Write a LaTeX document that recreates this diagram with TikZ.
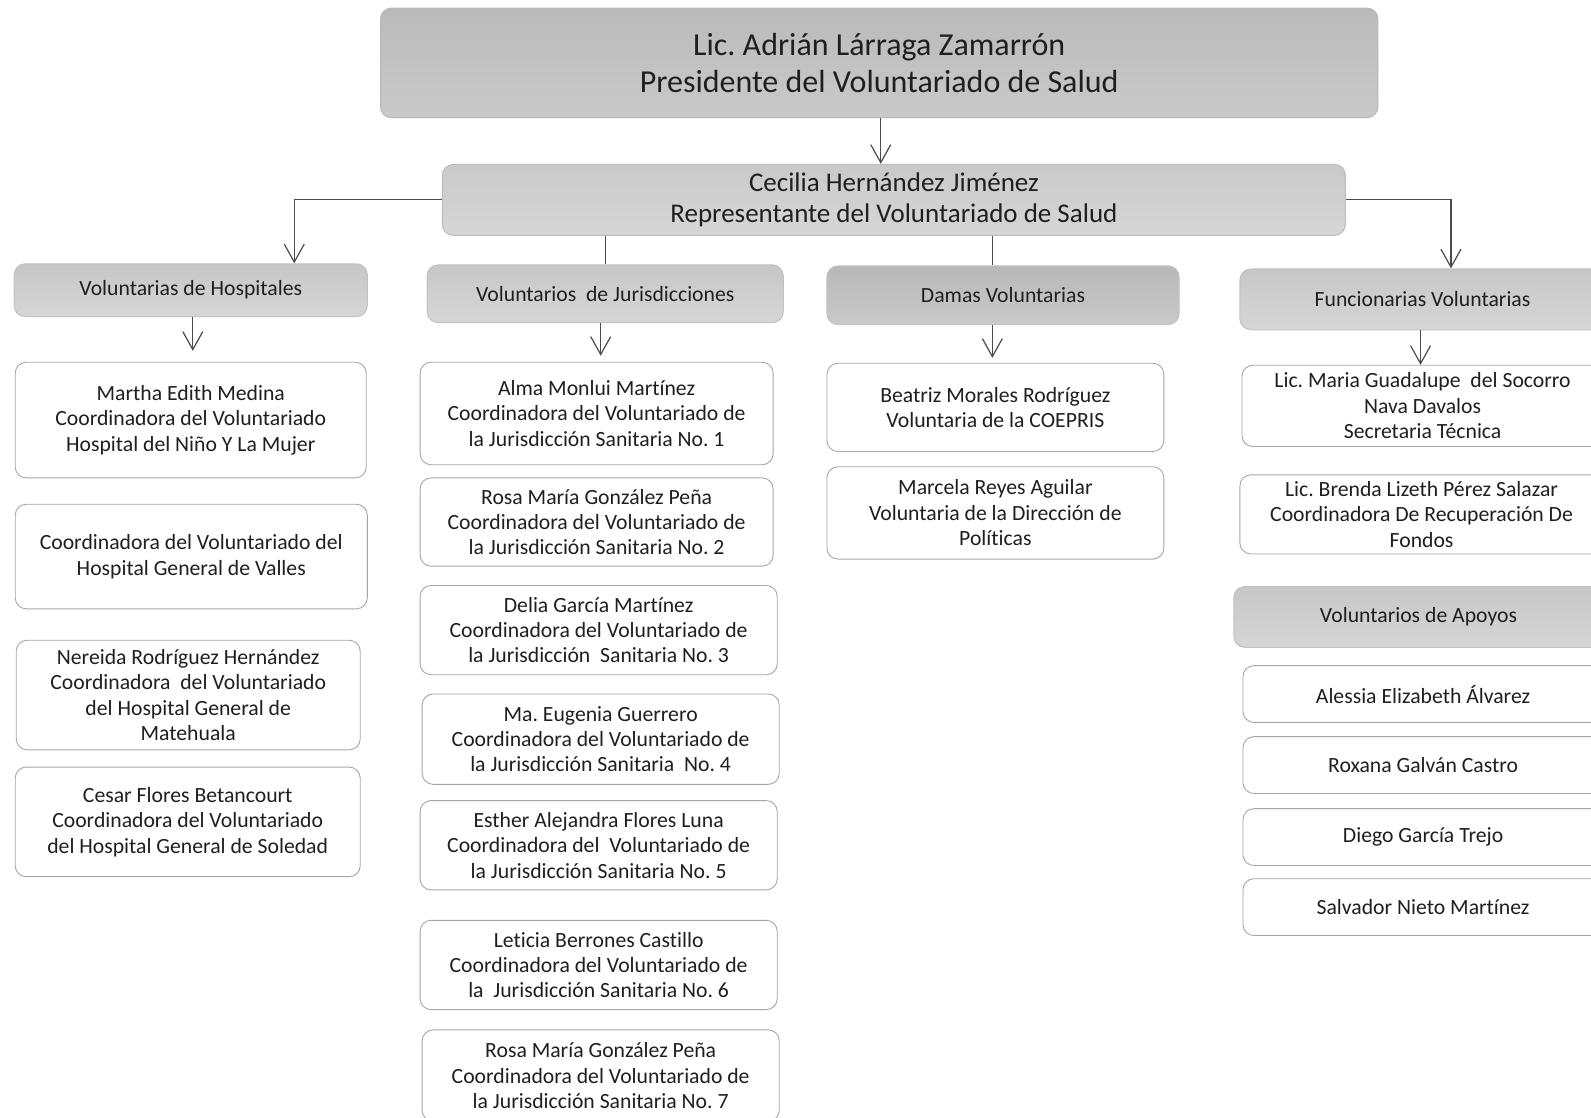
\documentclass[tikz,border=0pt]{standalone}
\usepackage{fontspec}
\setmainfont{Carlito}[Ligatures=NoCommon]
\frenchspacing
\usetikzlibrary{arrows.meta}
\newlength\uu \setlength\uu{1.0147pt}
\newcommand\bx[7]{\node[#6, minimum width={(#4-#2)*\uu}, minimum height={(#5-#3)*\uu}] (#1) at ({(#2+#4)/2},{(#3+#5)/2}) {#7};}
\tikzset{
  base/.style={inner sep=0pt, align=center, text=black!88, rounded corners=11pt},
  topbox/.style={base, top color=black!27, bottom color=black!21, draw=black!28, line width=1pt, font=\fontsize{32}{37.5}\selectfont},
  repbox/.style={base, top color=black!21, bottom color=black!16, draw=black!26, line width=1pt, font=\fontsize{27}{31.5}\selectfont},
  headbox/.style={base, top color=black!22, bottom color=black!16, draw=black!24, line width=1pt, font=\fontsize{21.7}{25.4}\selectfont},
  darkhead/.style={headbox, top color=black!28, bottom color=black!21},
  card/.style={base, fill=white, draw=black!35, line width=0.9pt, font=\fontsize{21.7}{25.4}\selectfont},
  ln/.style={draw=black!70, line width=1.2pt},
  arr/.style={ln, -{Straight Barb[length=18pt,width=20pt]}}
}
\begin{document}
\begin{tikzpicture}[x=1.0147pt, y=-1.0147pt]
\fill[white] (0,0) rectangle (1568,1101);
\useasboundingbox (0,0) rectangle (1568,1101);

\bx{pres}{375}{8}{1358}{116}{topbox}{Lic. Adrián Lárraga Zamarrón\\Presidente del Voluntariado de Salud}
\bx{rep}{436}{162}{1326}{232}{repbox}{Cecilia Hernández Jiménez\\Representante del Voluntariado de Salud}

\bx{hosp}{14}{260}{362}{312}{headbox}{Voluntarias de Hospitales}
\bx{jur}{421}{261}{772}{318}{headbox}{Voluntarios\ \ de Jurisdicciones}
\bx{dam}{815}{262}{1162}{320}{darkhead}{Damas Voluntarias}
\bx{fun}{1222}{265}{1582}{325}{headbox}{Funcionarias Voluntarias}

\bx{h1}{15}{357}{361}{471}{card}{Martha Edith Medina\\Coordinadora del Voluntariado\\Hospital del Niño Y La Mujer}
\bx{h2}{15}{497}{362}{600}{card}{Coordinadora del Voluntariado del\\Hospital General de Valles}
\bx{h3}{16}{631}{355}{739}{card}{Nereida Rodríguez Hernández\\Coordinadora\ \ del Voluntariado\\del Hospital General de\\Matehuala}
\bx{h4}{15}{756}{355}{864}{card}{Cesar Flores Betancourt\\Coordinadora del Voluntariado\\del Hospital General de Soledad}

\bx{j1}{414}{357}{762}{458}{card}{Alma Monlui Martínez\\Coordinadora del Voluntariado de\\la Jurisdicción Sanitaria No. 1}
\bx{j2}{414}{471}{762}{558}{card}{Rosa María González Peña\\Coordinadora del Voluntariado de\\la Jurisdicción Sanitaria No. 2}
\bx{j3}{414}{577}{766}{665}{card}{Delia García Martínez\\Coordinadora del Voluntariado de\\la Jurisdicción\ \ Sanitaria No. 3}
\bx{j4}{416}{684}{768}{773}{card}{Ma. Eugenia Guerrero\\Coordinadora del Voluntariado de\\la Jurisdicción Sanitaria\ \ No. 4}
\bx{j5}{414}{789}{766}{877}{card}{Esther Alejandra Flores Luna\\Coordinadora del\ \ Voluntariado de\\la Jurisdicción Sanitaria No. 5}
\bx{j6}{414}{907}{766}{995}{card}{Leticia Berrones Castillo\\Coordinadora del Voluntariado de\\la\ \ Jurisdicción Sanitaria No. 6}
\bx{j7}{416}{1015}{768}{1105}{card}{Rosa María González Peña\\Coordinadora del Voluntariado de\\la Jurisdicción Sanitaria No. 7}

\bx{d1}{815}{358}{1147}{445}{card}{Beatriz Morales Rodríguez\\Voluntaria de la COEPRIS}
\bx{d2}{815}{460}{1147}{551}{card}{Marcela Reyes Aguilar\\Voluntaria de la Dirección de\\Políticas}

\bx{f1}{1224}{360}{1580}{440}{card}{Lic. Maria Guadalupe\ \ del Socorro\\Nava Davalos\\Secretaria Técnica}
\bx{f2}{1222}{468}{1580}{546}{card}{Lic. Brenda Lizeth Pérez Salazar\\Coordinadora De Recuperación De\\Fondos}
\bx{apo}{1216}{578}{1580}{638}{headbox}{Voluntarios de Apoyos}
\bx{a1}{1225}{656}{1580}{712}{card}{Alessia Elizabeth Álvarez}
\bx{a2}{1225}{726}{1580}{782}{card}{Roxana Galván Castro}
\bx{a3}{1225}{797}{1580}{853}{card}{Diego García Trejo}
\bx{a4}{1225}{866}{1580}{922}{card}{Salvador Nieto Martínez}

\coordinate (pa) at (868,0);
\coordinate (ha) at (290,0);
\coordinate (fa) at (1430,0);
\coordinate (ja) at (597,0);
\coordinate (da) at (978,0);
\coordinate (hb) at (190,0);
\coordinate (jb) at (592,0);
\coordinate (fb) at (1400,0);

\draw[arr] (pa |- pres.south) -- (pa |- rep.north);
\draw[arr] (rep.west) -| (ha |- hosp.north);
\draw[arr] (rep.east) -| (fa |- fun.north);
\draw[ln] (ja |- rep.south) -- (ja |- jur.north);
\draw[ln] (da |- rep.south) -- (da |- dam.north);

\draw[arr, shorten >=11pt] (hb |- hosp.south) -- (hb |- h1.north);
\draw[arr, shorten >=6pt] (jb |- jur.south) -- (jb |- j1.north);
\draw[arr, shorten >=5pt] (da |- dam.south) -- (da |- d1.north);
\draw[arr] (fb |- fun.south) -- (fb |- f1.north);
\end{tikzpicture}
\end{document}
